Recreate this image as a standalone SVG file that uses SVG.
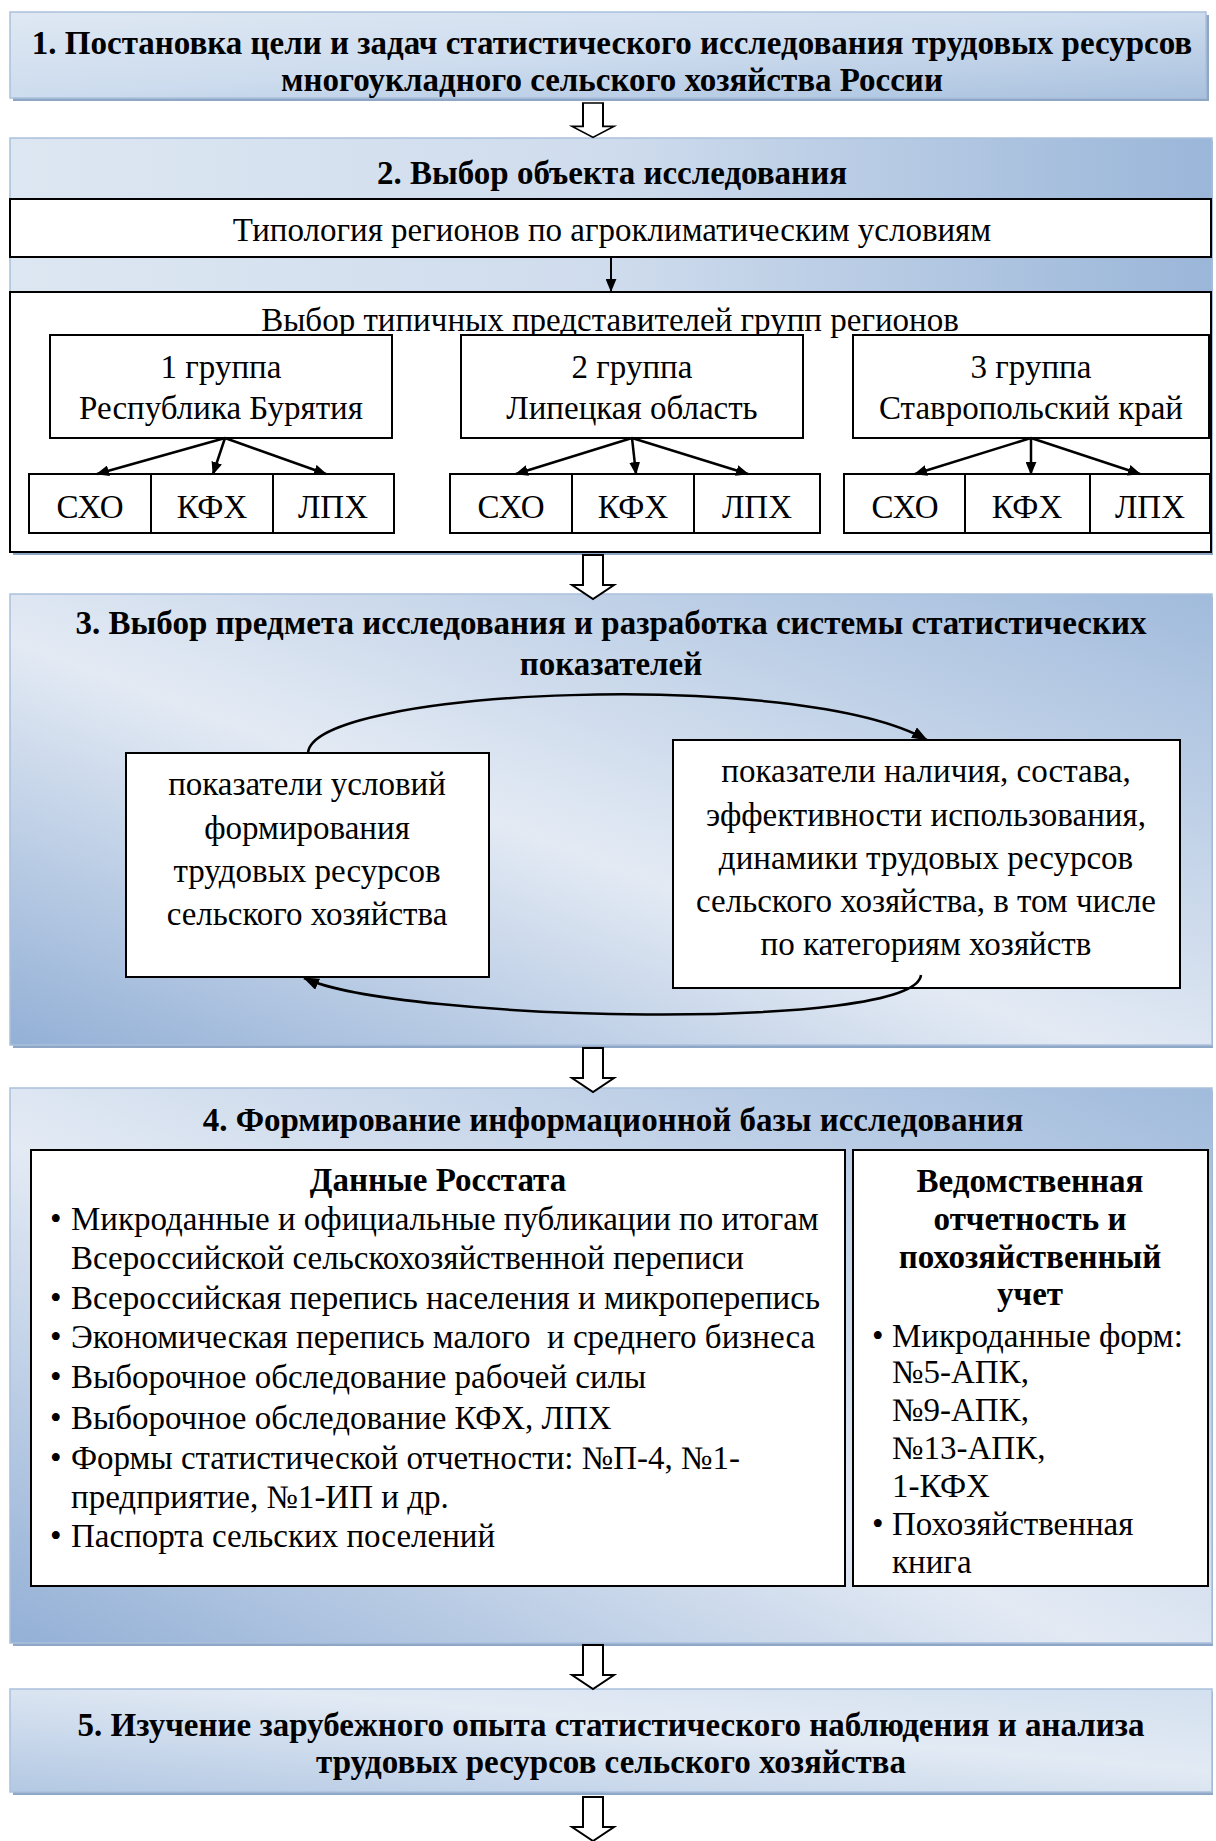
<svg xmlns="http://www.w3.org/2000/svg" width="1216" height="1841" viewBox="0 0 1216 1841">
<style>
.t{font-family:"Liberation Serif","Times New Roman",serif;font-size:33px;fill:#000}
.b{font-family:"Liberation Serif","Times New Roman",serif;font-size:33px;font-weight:bold;fill:#000}
.m{text-anchor:middle}
.box{fill:#fff;stroke:#000;stroke-width:2}
.sec{stroke:#aac0dc;stroke-width:1.5}
.shadow{fill:#8ea7c6}
.ln{fill:none;stroke:#000;stroke-width:2.5}
.hollow{fill:#fff;stroke:#000;stroke-width:2}
</style>
<defs>
<linearGradient id="g1" x1="0" y1="0" x2="1" y2="1">
<stop offset="0" stop-color="#dfe8f3"/><stop offset="0.5" stop-color="#cddcee"/><stop offset="1" stop-color="#a9c1de"/>
</linearGradient>
<linearGradient id="g2" x1="0" y1="0" x2="1" y2="0">
<stop offset="0" stop-color="#dde7f2"/><stop offset="0.5" stop-color="#cfdced"/><stop offset="1" stop-color="#9ab6d9"/>
</linearGradient>
<linearGradient id="g3" x1="0" y1="1" x2="1" y2="0">
<stop offset="0" stop-color="#93b0d6"/><stop offset="0.45" stop-color="#e3eaf4"/><stop offset="1" stop-color="#a1bbdc"/>
</linearGradient>
<linearGradient id="g5" x1="0" y1="1" x2="1" y2="0">
<stop offset="0" stop-color="#b3c8e3"/><stop offset="0.6" stop-color="#e2eaf4"/><stop offset="1" stop-color="#d3e0ef"/>
</linearGradient>
<marker id="ah" viewBox="0 0 12 10" refX="11" refY="5" markerWidth="13" markerHeight="11" markerUnits="userSpaceOnUse" orient="auto">
<path d="M0,0 L12,5 L0,10 Z" fill="#000"/>
</marker>
<marker id="ah2" viewBox="0 0 16 12" refX="15" refY="6" markerWidth="16" markerHeight="12" markerUnits="userSpaceOnUse" orient="auto">
<path d="M0,0 L16,6 L0,12 Z" fill="#000"/>
</marker>
<path id="harrow" d="M-10,0 L10,0 L10,30 L21,30 L0,44 L-21,30 L-10,30 Z"/>
</defs>

<!-- Node 1 -->
<g id="node1">
<rect class="shadow" x="13" y="15" width="1196" height="86"/>
<rect class="sec" x="10" y="12" width="1196" height="86" fill="url(#g1)"/>
<text class="b m" x="612" y="54">1. Постановка цели и задач статистического исследования трудовых ресурсов</text>
<text class="b m" x="612" y="91">многоукладного сельского хозяйства России</text>
</g>

<!-- Node 2 -->
<g id="node2">
<rect class="shadow" x="13" y="141" width="1200" height="414"/>
<rect class="sec" x="10" y="138" width="1202" height="414" fill="url(#g2)"/>
<text class="b m" x="612" y="184">2. Выбор объекта исследования</text>
<g id="typology">
<rect class="box" x="10" y="199" width="1201" height="58"/>
<text class="t m" x="612" y="241">Типология регионов по агроклиматическим условиям</text>
</g>
<g id="selection">
<rect class="box" x="10" y="292" width="1201" height="260"/>
<text class="t m" x="610" y="331">Выбор типичных представителей групп регионов</text>
</g>
<g id="group1">
<rect class="box" x="50" y="335" width="342" height="103"/>
<text class="t m" x="221" y="378">1 группа</text>
<text class="t m" x="221" y="419">Республика Бурятия</text>
<rect class="box" x="29" y="474" width="365" height="59"/>
<line x1="151" y1="474" x2="151" y2="533" stroke="#000" stroke-width="2"/>
<line x1="273" y1="474" x2="273" y2="533" stroke="#000" stroke-width="2"/>
<text class="t m" x="90" y="518">СХО</text>
<text class="t m" x="212" y="518">КФХ</text>
<text class="t m" x="333" y="518">ЛПХ</text>
</g>
<g id="group2">
<rect class="box" x="461" y="335" width="342" height="103"/>
<text class="t m" x="632" y="378">2 группа</text>
<text class="t m" x="632" y="419">Липецкая область</text>
<rect class="box" x="450" y="474" width="370" height="59"/>
<line x1="572" y1="474" x2="572" y2="533" stroke="#000" stroke-width="2"/>
<line x1="694" y1="474" x2="694" y2="533" stroke="#000" stroke-width="2"/>
<text class="t m" x="511" y="518">СХО</text>
<text class="t m" x="633" y="518">КФХ</text>
<text class="t m" x="757" y="518">ЛПХ</text>
</g>
<g id="group3">
<rect class="box" x="853" y="335" width="356" height="103"/>
<text class="t m" x="1031" y="378">3 группа</text>
<text class="t m" x="1031" y="419">Ставропольский край</text>
<rect class="box" x="844" y="474" width="366" height="59"/>
<line x1="965" y1="474" x2="965" y2="533" stroke="#000" stroke-width="2"/>
<line x1="1090" y1="474" x2="1090" y2="533" stroke="#000" stroke-width="2"/>
<text class="t m" x="905" y="518">СХО</text>
<text class="t m" x="1027" y="518">КФХ</text>
<text class="t m" x="1150" y="518">ЛПХ</text>
</g>
</g>

<!-- Node 3 -->
<g id="node3">
<rect class="shadow" x="13" y="597" width="1200" height="451"/>
<rect class="sec" x="10" y="594" width="1202" height="451" fill="url(#g3)"/>
<text class="b m" x="611" y="634">3. Выбор предмета исследования и разработка системы статистических</text>
<text class="b m" x="611" y="675">показателей</text>
<g id="conditions">
<rect class="box" x="126" y="753" width="363" height="224"/>
<text class="t m" x="307" y="795">показатели условий</text>
<text class="t m" x="307" y="839">формирования</text>
<text class="t m" x="307" y="882">трудовых ресурсов</text>
<text class="t m" x="307" y="925">сельского хозяйства</text>
</g>
<g id="availability">
<rect class="box" x="673" y="740" width="507" height="248"/>
<text class="t m" x="926" y="782">показатели наличия, состава,</text>
<text class="t m" x="926" y="826">эффективности использования,</text>
<text class="t m" x="926" y="869">динамики трудовых ресурсов</text>
<text class="t m" x="926" y="912">сельского хозяйства, в том числе</text>
<text class="t m" x="926" y="955">по категориям хозяйств</text>
</g>
</g>

<!-- Node 4 -->
<g id="node4">
<rect class="shadow" x="13" y="1091" width="1200" height="555"/>
<rect class="sec" x="10" y="1088" width="1202" height="555" fill="url(#g3)"/>
<text class="b m" x="613" y="1131">4. Формирование информационной базы исследования</text>
<g id="rosstat">
<rect class="box" x="31" y="1150" width="814" height="436"/>
<text class="b m" x="438" y="1191">Данные Росстата</text>
<g class="t">
<text x="50" y="1230">•</text><text x="71" y="1230">Микроданные и официальные публикации по итогам</text>
<text x="71" y="1269">Всероссийской сельскохозяйственной переписи</text>
<text x="50" y="1309">•</text><text x="71" y="1309">Всероссийская перепись населения и микроперепись</text>
<text x="50" y="1348">•</text><text x="71" y="1348">Экономическая перепись малого &#160;и среднего бизнеса</text>
<text x="50" y="1388">•</text><text x="71" y="1388">Выборочное обследование рабочей силы</text>
<text x="50" y="1429">•</text><text x="71" y="1429">Выборочное обследование КФХ, ЛПХ</text>
<text x="50" y="1469">•</text><text x="71" y="1469">Формы статистической отчетности: №П-4, №1-</text>
<text x="71" y="1508">предприятие, №1-ИП и др.</text>
<text x="50" y="1547">•</text><text x="71" y="1547">Паспорта сельских поселений</text>
</g>
</g>
<g id="departmental">
<rect class="box" x="853" y="1150" width="355" height="436"/>
<text class="b m" x="1030" y="1192">Ведомственная</text>
<text class="b m" x="1030" y="1230">отчетность и</text>
<text class="b m" x="1030" y="1268">похозяйственный</text>
<text class="b m" x="1030" y="1305">учет</text>
<g class="t">
<text x="872" y="1347">•</text><text x="892" y="1347">Микроданные форм:</text>
<text x="892" y="1383">№5-АПК,</text>
<text x="892" y="1421">№9-АПК,</text>
<text x="892" y="1459">№13-АПК,</text>
<text x="892" y="1497">1-КФХ</text>
<text x="872" y="1535">•</text><text x="892" y="1535">Похозяйственная</text>
<text x="892" y="1573">книга</text>
</g>
</g>
</g>

<!-- Node 5 -->
<g id="node5">
<rect class="shadow" x="13" y="1692" width="1200" height="103"/>
<rect class="sec" x="10" y="1689" width="1202" height="103" fill="url(#g5)"/>
<text class="b m" x="611" y="1736">5. Изучение зарубежного опыта статистического наблюдения и анализа</text>
<text class="b m" x="611" y="1773">трудовых ресурсов сельского хозяйства</text>
</g>

<!-- Connectors -->
<g id="connectors">
<use href="#harrow" class="hollow" transform="translate(593,103) scale(1,0.78)"/>
<use href="#harrow" class="hollow" transform="translate(593,555)"/>
<use href="#harrow" class="hollow" transform="translate(593,1048)"/>
<use href="#harrow" class="hollow" transform="translate(593,1645)"/>
<use href="#harrow" class="hollow" transform="translate(593,1797)"/>
<line x1="611" y1="257" x2="611" y2="291" stroke="#000" stroke-width="2" marker-end="url(#ah)"/>
<line class="ln" x1="225" y1="438" x2="97" y2="474" marker-end="url(#ah)"/>
<line class="ln" x1="225" y1="438" x2="213" y2="474" marker-end="url(#ah)"/>
<line class="ln" x1="225" y1="438" x2="326" y2="474" marker-end="url(#ah)"/>
<line class="ln" x1="632" y1="438" x2="516" y2="474" marker-end="url(#ah)"/>
<line class="ln" x1="632" y1="438" x2="636" y2="474" marker-end="url(#ah)"/>
<line class="ln" x1="632" y1="438" x2="748" y2="474" marker-end="url(#ah)"/>
<line class="ln" x1="1031" y1="438" x2="915" y2="474" marker-end="url(#ah)"/>
<line class="ln" x1="1031" y1="438" x2="1031" y2="474" marker-end="url(#ah)"/>
<line class="ln" x1="1031" y1="438" x2="1140" y2="474" marker-end="url(#ah)"/>
<path class="ln" d="M308,753 C312,688 800,668 927,740" marker-end="url(#ah2)"/>
<path class="ln" d="M921,975 C915,1032 400,1022 304,978" marker-end="url(#ah2)"/>
</g>
</svg>
